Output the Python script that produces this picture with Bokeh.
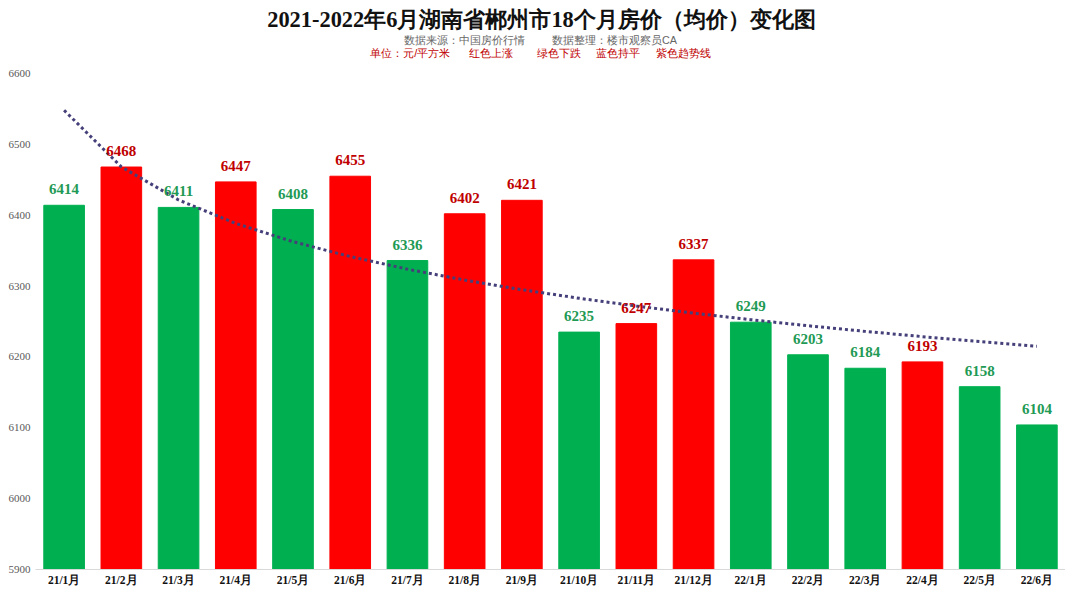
import numpy as np
from bokeh.plotting import figure
from bokeh.models import ColumnDataSource, FixedTicker, LabelSet, Label
from bokeh.core.properties import value
from bokeh.embed import file_html
from bokeh.resources import INLINE

months = ["21/1月", "21/2月", "21/3月", "21/4月", "21/5月", "21/6月", "21/7月", "21/8月", "21/9月",
          "21/10月", "21/11月", "21/12月", "22/1月", "22/2月", "22/3月", "22/4月", "22/5月", "22/6月"]
prices = [6414, 6468, 6411, 6447, 6408, 6455, 6336, 6402, 6421,
          6235, 6247, 6337, 6249, 6203, 6184, 6193, 6158, 6104]
trend = ["down", "up", "down", "up", "down", "up", "down", "up", "up",
         "down", "up", "up", "down", "down", "down", "up", "down", "down"]
y_ticks = [5900, 6000, 6100, 6200, 6300, 6400, 6500, 6600]

bar_col = {"up": "#ff0000", "down": "#00b050"}
lab_col = {"up": "#c00000", "down": "#1f9a55"}

src = ColumnDataSource(dict(
    m=months, v=prices,
    c=[bar_col[t] for t in trend],
    lc=[lab_col[t] for t in trend],
    txt=[str(v) for v in prices],
))

# logarithmic trend line (Excel-style), fitted from the data
xi = np.arange(1, len(prices) + 1)
b, a = np.polyfit(np.log(xi), np.array(prices, dtype=float), 1)
trend_vals = a + b * np.log(xi)

# the frame runs to the top of the figure (no visible y axis line), leaving
# head-room above 6600 for the title block
p = figure(x_range=months, y_range=(5900, 6703), width=1065, height=588,
           output_backend="svg", toolbar_location=None,
           min_border_left=35, min_border_right=0, min_border_top=0, min_border_bottom=0)

NB = "\u00a0"
serif = value("Liberation Serif")
FRAME_LEFT = 35     # screen x of frame left edge
FRAME_BOTTOM = 570  # screen y of frame bottom edge
cx = 540 - FRAME_LEFT

p.add_layout(Label(x=cx + 1, y=FRAME_BOTTOM - 20, x_units="screen", y_units="screen",
                   text="2021-2022年6月湖南省郴州市18个月房价（均价）变化图",
                   text_font="Liberation Serif", text_font_size="22.4px", text_font_style="bold",
                   text_color="#111111", text_align="center", text_baseline="middle"))
p.add_layout(Label(x=cx, y=FRAME_BOTTOM - 40, x_units="screen", y_units="screen",
                   text="数据来源：中国房价行情" + NB * 9 + "数据整理：楼市观察员CA",
                   text_font_size="10.8px", text_color="#666666",
                   text_align="center", text_baseline="middle"))
p.add_layout(Label(x=cx, y=FRAME_BOTTOM - 53, x_units="screen", y_units="screen",
                   text="单位：元/平方米" + NB * 6 + "红色上涨" + NB * 8 + "绿色下跌" + NB * 5 +
                   "蓝色持平" + NB * 5 + "紫色趋势线",
                   text_font_size="11px", text_color="#c00000",
                   text_align="center", text_baseline="middle"))

p.vbar(x="m", top="v", bottom=5900, width=0.71, color="c", source=src)
p.line(x=months, y=trend_vals, line_color="#45407a", line_width=3, line_dash="3 3")

labels = LabelSet(x="m", y="v", text="txt", source=src, text_color="lc",
                  text_font=serif, text_font_size="15px", text_font_style="bold",
                  text_align="center", text_baseline="bottom", y_offset=11)
p.add_layout(labels)

p.xgrid.grid_line_color = None
p.ygrid.grid_line_color = None
p.outline_line_color = None

p.yaxis.ticker = FixedTicker(ticks=y_ticks)
p.yaxis.axis_line_color = None
p.yaxis.major_tick_line_color = None
p.yaxis.minor_tick_line_color = None
p.yaxis.major_tick_out = 0
p.yaxis.major_label_text_font_size = "11px"
p.yaxis.major_label_text_color = "#595959"
p.yaxis.major_label_text_font = "Liberation Sans Narrow"
p.yaxis.major_label_standoff = 5

p.xaxis.axis_line_color = "#d9d9d9"
p.xaxis.major_tick_line_color = None
p.xaxis.major_tick_out = 0
p.xaxis.major_label_text_font_size = "11.5px"
p.xaxis.major_label_text_font = "Liberation Serif"
p.xaxis.major_label_text_font_style = "bold"
p.xaxis.major_label_text_color = "#111111"
p.xaxis.major_label_standoff = 4

open("out.html", "w").write(file_html(p, INLINE))
